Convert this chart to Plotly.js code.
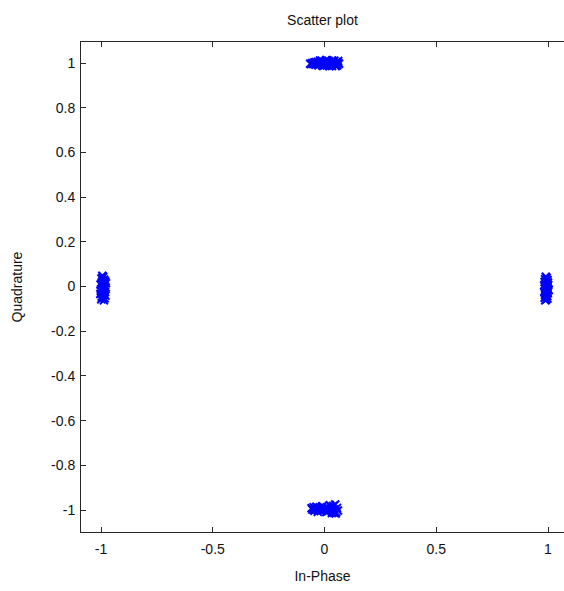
<!DOCTYPE html>
<html>
<head>
<meta charset="utf-8">
<script src="https://cdn.plot.ly/plotly-3.0.1.min.js"></script>
<style>
  html, body { margin: 0; padding: 0; background: #fff; }
  #chart { width: 564px; height: 591px; }
</style>
</head>
<body>
<div id="chart"></div>
<script>
// Received QPSK symbols (In-Phase, Quadrature), one pair of arrays per constellation point.
const topI = [-0.064, -0.060, -0.055, -0.050, -0.046, -0.041, -0.036, -0.031, -0.027, -0.022,
              -0.017, -0.012, -0.008, -0.003, 0.002, 0.006, 0.011, 0.016, 0.020, 0.025,
              0.030, 0.034, 0.039, 0.044, 0.048, 0.053, 0.057, 0.061, 0.065, -0.020,
              -0.005, 0.010, 0.022, 0.035, 0.050, 0.060, -0.040, 0.000, 0.028, 0.055];
const topQ = [0.997, 0.995, 1.000, 0.995, 1.002, 0.992, 0.998, 1.006, 0.990, 1.003,
              0.996, 1.010, 0.988, 1.004, 0.994, 1.012, 0.989, 1.001, 1.008, 0.992,
              1.005, 0.987, 0.999, 1.010, 0.993, 1.004, 0.990, 1.009, 0.997, 1.011,
              0.988, 1.013, 0.986, 1.011, 0.986, 1.002, 1.004, 0.998, 0.996, 0.992];

const botI = [-0.058, -0.054, -0.049, -0.045, -0.040, -0.036, -0.031, -0.026, -0.022, -0.017,
              -0.012, -0.008, -0.003, 0.002, 0.006, 0.011, 0.016, 0.020, 0.025, 0.030,
              0.034, 0.039, 0.043, 0.048, 0.052, 0.056, 0.060, -0.030, -0.010, 0.008,
              0.024, 0.040, 0.050, -0.045, 0.015, 0.033];
const botQ = [-0.992, -0.998, -0.987, -1.003, -0.994, -0.985, -1.000, -0.990, -0.996, -1.004,
              -0.989, -0.995, -1.001, -0.992, -0.998, -0.988, -1.005, -0.993, -0.999, -0.986,
              -1.006, -0.982, -1.012, -0.975, -1.010, -0.990, -1.002, -1.008, -0.983, -1.009,
              -0.978, -0.996, -1.015, -0.997, -0.997, -1.013];

const leftI = [-0.994, -0.990, -0.998, -0.986, -0.993, -0.981, -0.997, -0.989, -1.002, -0.984,
               -0.995, -0.979, -0.991, -1.000, -0.985, -0.996, -0.982, -0.993, -1.003, -0.988,
               -0.980, -0.997, -0.990, -0.984, -0.999, -0.987, -0.993, -0.983, -0.995, -0.990,
               -0.978, -1.001, -0.986, -0.992];
const leftQ = [0.048, 0.042, 0.036, 0.031, 0.027, 0.022, 0.018, 0.013, 0.009, 0.005,
               0.001, -0.004, -0.008, -0.012, -0.016, -0.021, -0.025, -0.029, -0.033, -0.037,
               -0.041, -0.045, -0.049, -0.053, -0.057, -0.062, 0.040, 0.024, 0.007, -0.010,
               0.015, -0.019, -0.035, -0.002];

const rightI = [0.990, 0.994, 0.987, 0.998, 0.991, 0.985, 0.996, 0.989, 1.001, 0.993,
                0.986, 0.997, 0.990, 1.002, 0.988, 0.995, 0.984, 0.999, 0.992, 0.987,
                0.996, 0.990, 0.985, 0.998, 0.992, 0.988, 1.000, 0.994, 0.989, 0.996,
                0.983, 1.003];
const rightQ = [0.044, 0.038, 0.033, 0.029, 0.024, 0.020, 0.015, 0.011, 0.007, 0.003,
                -0.001, -0.006, -0.010, -0.014, -0.018, -0.022, -0.026, -0.030, -0.034, -0.038,
                -0.042, -0.046, -0.050, -0.054, -0.058, -0.062, 0.018, -0.004, -0.024, -0.044,
                0.006, -0.016];

const xTicks = [-1, -0.5, 0, 0.5, 1];
const xTickText = ['-1', '-0.5', '0', '0.5', '1'];
const yTicks = [-1, -0.8, -0.6, -0.4, -0.2, 0, 0.2, 0.4, 0.6, 0.8, 1];
const yTickText = ['-1', '-0.8', '-0.6', '-0.4', '-0.2', '0', '0.2', '0.4', '0.6', '0.8', '1'];

const allI = topI.concat(botI, leftI, rightI);
const allQ = topQ.concat(botQ, leftQ, rightQ);

const axisColor = '#262626';
const font = { family: 'Arial, "Liberation Sans", sans-serif', size: 14, color: '#111' };

const trace = {
  type: 'scatter',
  mode: 'markers',
  x: allI,
  y: allQ,
  marker: {
    symbol: 'x-thin',
    size: 8,
    color: '#0000ff',
    line: { color: '#0000ff', width: 2 }
  },
  hoverinfo: 'skip'
};

const layout = {
  width: 564,
  height: 591,
  margin: { l: 81, r: 0, t: 42, b: 59, pad: 0 },
  paper_bgcolor: '#fff',
  plot_bgcolor: '#fff',
  font: font,
  showlegend: false,
  title: {
    text: 'Scatter plot',
    font: { family: font.family, size: 14, color: '#111' },
    x: 0.5, xref: 'paper', xanchor: 'center',
    y: 1, yref: 'container', yanchor: 'top', pad: { t: 15 }
  },
  xaxis: {
    range: [-1.0895, 1.0716],
    tickvals: xTicks,
    ticktext: xTickText,
    ticks: 'inside',
    ticklen: 5,
    tickwidth: 1,
    tickcolor: axisColor,
    showline: true,
    linecolor: axisColor,
    linewidth: 1,
    mirror: 'ticks',
    showgrid: false,
    zeroline: false,
    tickfont: font,
    ticklabelstandoff: 4,
    title: { text: 'In-Phase', font: font, standoff: 15 }
  },
  yaxis: {
    range: [-1.098, 1.094],
    tickvals: yTicks,
    ticktext: yTickText,
    ticks: 'inside',
    ticklen: 5,
    tickwidth: 1,
    tickcolor: axisColor,
    showline: true,
    linecolor: axisColor,
    linewidth: 1,
    mirror: false,
    showgrid: false,
    zeroline: false,
    tickfont: font,
    ticklabelstandoff: 2,
    title: { text: 'Quadrature', font: font, standoff: 25 }
  }
};

Plotly.newPlot('chart', [trace], layout, { displayModeBar: false, staticPlot: true });
</script>
</body>
</html>
